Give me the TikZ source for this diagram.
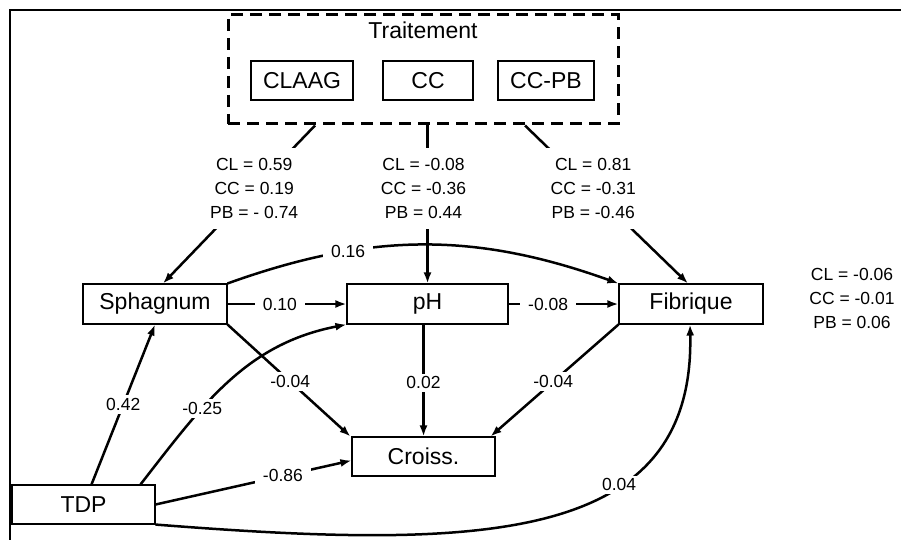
\documentclass[tikz,border=0pt]{standalone}
\usepackage{fontspec}
\setmainfont{Liberation Sans}
\usetikzlibrary{arrows.meta}
\begin{document}
\begin{tikzpicture}[x=1pt,y=-1pt,
  box/.style={draw, line width=1.1pt, minimum height=40pt, inner sep=0pt, font=\fontsize{23}{27}\selectfont},
  lbl/.style={fill=white, inner xsep=8pt, inner ysep=3pt, font=\fontsize{17.5}{24}\selectfont},
  tlbl/.style={fill=white, align=center, inner xsep=6pt, inner ysep=10pt, font=\fontsize{17.5}{24}\selectfont},
  arr/.style={line width=2.5pt, -{Latex[length=11pt,width=8pt]}}]
\useasboundingbox (0,0) rectangle (901,540);
\draw[line width=2.5pt] (10,540) -- (10,10) -- (901,10);
% treatment box
\node[draw, line width=3pt, dash pattern=on 12pt off 7pt, minimum width=390pt, minimum height=109pt, inner sep=0pt] (trt) at (423,69.5) {};
\node[font=\fontsize{23}{27}\selectfont] (ttl) at (423,30) {Traitement};
\node[box, minimum width=102pt, minimum height=39pt] (claag) at (302,80.5) {CLAAG};
\node[box, minimum width=90pt, minimum height=39pt] (cc) at (428,80.5) {CC};
\node[box, minimum width=96pt, minimum height=39pt] (ccpb) at (546,80.5) {CC-PB};
% main nodes
\node[box, minimum width=144pt] (sph) at (155,304) {Sphagnum};
\node[box, minimum width=161pt] (ph) at (427.5,304) {pH};
\node[box, minimum width=144pt] (fib) at (691,304) {Fibrique};
\node[box, minimum width=143pt, minimum height=39pt] (cro) at (423.5,456.5) {Croiss.};
\node[box, minimum width=143pt, minimum height=39pt] (tdp) at (83.5,504.5) {TDP};
\node[align=center, font=\fontsize{17.5}{24}\selectfont] (rl) at (852,298) {CL = -0.06\\CC = -0.01\\PB = 0.06};
% treatment arrows
\draw[arr] ([xshift=-108pt]trt.south) -- node[tlbl,pos=0.4]{CL = 0.59\\CC = 0.19\\PB = - 0.74} ([xshift=8pt]sph.north);
\draw[arr] (ph.north |- trt.south) -- node[tlbl,pos=0.4,xshift=-4pt]{CL = -0.08\\CC = -0.36\\PB = 0.44} (ph.north);
\draw[arr] ([xshift=102pt]trt.south) -- node[tlbl,pos=0.4,xshift=3pt]{CL = 0.81\\CC = -0.31\\PB = -0.46} ([xshift=-3pt]fib.north);
% curves
\draw[arr] (sph.north east) .. controls (371,232) and (475,232) .. node[lbl,pos=0.3]{0.16} (fib.north west);
\draw[arr] ([xshift=57pt]tdp.north) .. controls (203,404) and (246,344) .. node[lbl,pos=0.35]{-0.25} (ph.south west);
\draw[arr] (tdp.south east) .. controls (480,550) and (695,545) .. node[lbl,pos=0.65]{0.04} ([xshift=-1pt]fib.south);
% straight
\draw[arr] (sph.east) -- node[lbl,pos=0.44]{0.10} (ph.west);
\draw[arr] (ph.east) -- node[lbl,pos=0.36]{-0.08} (fib.west);
\draw[arr] (sph.south east) -- node[lbl,pos=0.51]{-0.04} ([xshift=-1pt]cro.north west);
\draw[arr] (fib.south west) -- node[lbl,pos=0.51]{-0.04} ([xshift=-5pt]cro.north east);
\draw[arr] (ph.south -| cro.north) -- node[lbl,pos=0.52]{0.02} (cro.north);
\draw[arr] ([xshift=8pt]tdp.north) -- node[lbl,pos=0.5]{0.42} (sph.south);
\draw[arr] (tdp.east) -- node[lbl,pos=0.65]{-0.86} ([yshift=-4pt]cro.west);
\end{tikzpicture}
\end{document}
